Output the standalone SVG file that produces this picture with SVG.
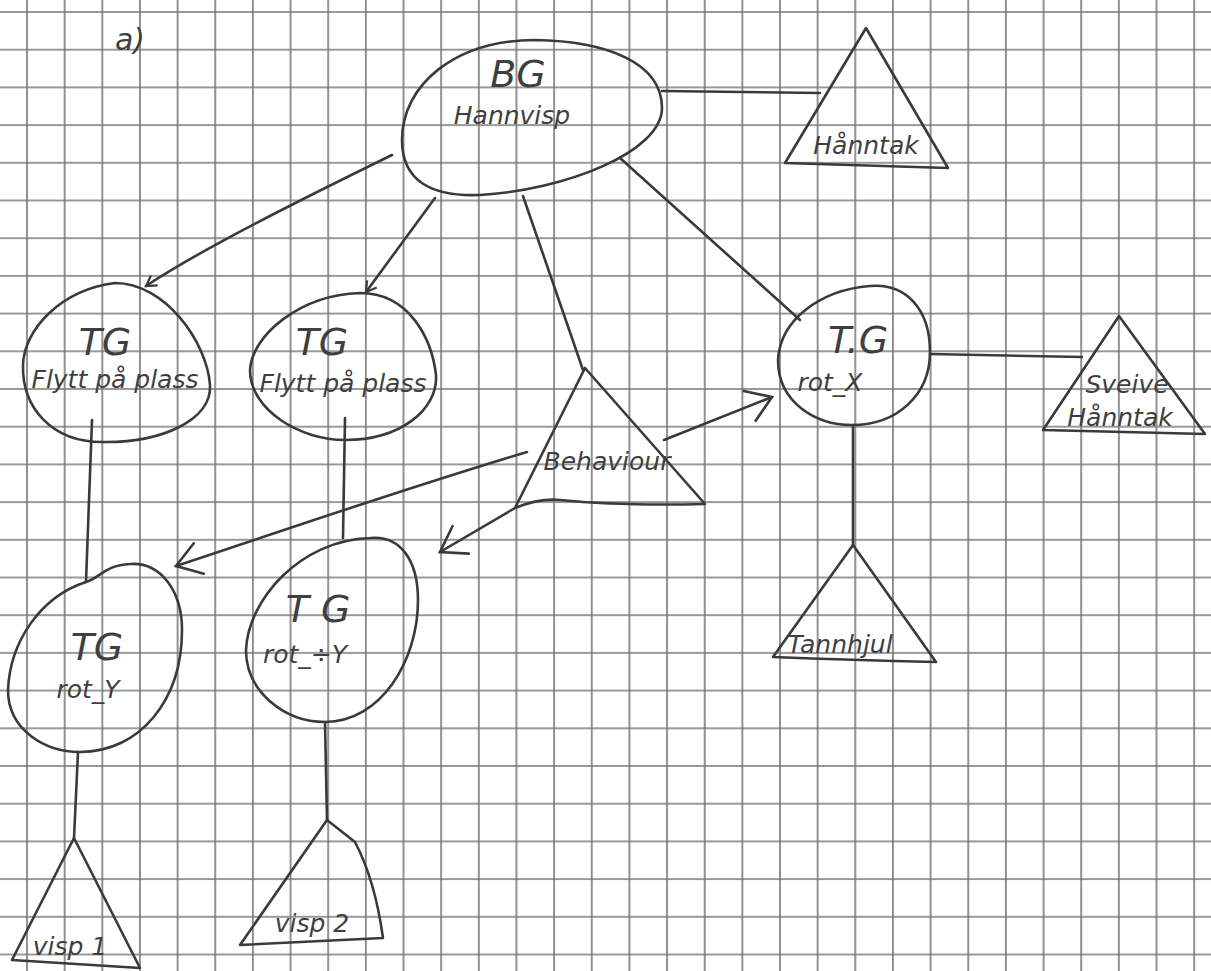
<svg xmlns="http://www.w3.org/2000/svg" width="1211" height="971" viewBox="0 0 1211 971">
<defs>
<pattern id="grid" patternUnits="userSpaceOnUse" x="8.2" y="-6.85" width="37.65" height="37.7">
<path d="M18.8 0 V37.7 M0 18.85 H37.65" stroke="#777777" stroke-width="1.6" fill="none"/>
</pattern>
<marker id="arrS" markerWidth="16" markerHeight="16" refX="12" refY="8" orient="auto" markerUnits="userSpaceOnUse">
<path d="M2 2 L12 8 L2 14" fill="none" stroke="#3a3a3a" stroke-width="2.2"/>
</marker>
<marker id="arrL" markerWidth="36" markerHeight="40" refX="30" refY="20" orient="auto" markerUnits="userSpaceOnUse">
<path d="M6 4 L30 20 L6 36" fill="none" stroke="#3a3a3a" stroke-width="2.6" stroke-linecap="round"/>
</marker>
</defs>
<style>
.s{fill:none;stroke:#3a3a3a;stroke-width:2.6;stroke-linejoin:round;stroke-linecap:round}
.t{font-family:"DejaVu Sans",sans-serif;font-style:oblique;fill:#3f3f3f;text-anchor:middle}
.big{font-size:38px}
.sm{font-size:25px}
</style>
<rect width="1211" height="971" fill="#ffffff"/>
<rect width="1211" height="971" fill="url(#grid)"/>
<text class="t" x="130" y="50" font-size="30">a)</text>

<g id="connectors">
<line class="s" x1="662" y1="91" x2="820" y2="93"/>
<path class="s" d="M392 155 C300 200 200 250 146 286" marker-end="url(#arrS)"/>
<path class="s" d="M435 198 L366 292" marker-end="url(#arrS)"/>
<path class="s" d="M523 196 L583 370"/>
<path class="s" d="M620 158 L800 320"/>
<line class="s" x1="930" y1="354" x2="1082" y2="357"/>
<line class="s" x1="853" y1="425" x2="853" y2="545"/>
<path class="s" d="M664 440 L772 397" marker-end="url(#arrL)"/>
<path class="s" d="M527 452 C400 490 300 525 176 566" marker-end="url(#arrL)"/>
<path class="s" d="M515 508 L440 552" marker-end="url(#arrL)"/>
<line class="s" x1="92" y1="420" x2="86" y2="582"/>
<line class="s" x1="345" y1="418" x2="343" y2="538"/>
<line class="s" x1="78" y1="752" x2="74" y2="838"/>
<line class="s" x1="325" y1="722" x2="327" y2="820"/>
</g>

<g id="bg">
<path class="s" d="M535 40 C455 40 402 85 402 140 C402 180 430 197 480 195 C565 190 662 152 662 108 C662 62 605 41 535 40 Z"/>
<text class="t big" x="518" y="87">BG</text>
<text class="t sm" x="512" y="124" font-size="28">Hannvisp</text>
</g>

<g id="handtak">
<path class="s" d="M866 28 L785 163 L948 168 Z"/>
<text class="t sm" x="866" y="154">Hånntak</text>
</g>

<g id="tg-flytt-1">
<path class="s" d="M115 283 C60 290 24 330 23 365 C22 408 52 442 102 442 C162 443 212 420 210 385 C207 342 165 283 115 283 Z"/>
<text class="t big" x="105" y="355">TG</text>
<text class="t sm" x="115" y="388">Flytt på plass</text>
</g>

<g id="tg-flytt-2">
<path class="s" d="M360 293 C300 295 252 335 250 370 C250 410 300 440 345 440 C400 440 438 410 436 375 C432 340 410 293 360 293 Z"/>
<text class="t big" x="322" y="355">TG</text>
<text class="t sm" x="343" y="392">Flytt på plass</text>
</g>

<g id="behaviour">
<path class="s" d="M585 368 L515 508 Q540 498 560 500 Q620 506 705 504 Z"/>
<text class="t sm" x="607" y="470">Behaviour</text>
</g>

<g id="tg-rotx">
<path class="s" d="M870 286 C820 290 780 320 778 360 C778 402 815 425 852 425 C897 425 930 395 930 352 C930 308 905 283 870 286 Z"/>
<text class="t big" x="858" y="353">T.G</text>
<text class="t sm" x="830" y="391" font-size="28">rot_X</text>
</g>

<g id="sveive">
<path class="s" d="M1119 316 L1043 430 L1205 434 Z"/>
<text class="t sm" x="1127" y="393">Sveive</text>
<text class="t sm" x="1120" y="426">Hånntak</text>
</g>

<g id="tannhjul">
<path class="s" d="M853 545 L773 657 Q850 660 936 662 Z"/>
<text class="t sm" x="840" y="653">Tannhjul</text>
</g>

<g id="tg-roty-1">
<path class="s" d="M130 564 C105 565 100 578 86 582 C40 597 10 642 8 690 C8 730 45 752 80 752 C140 752 182 700 182 630 C182 590 160 562 130 564 Z"/>
<text class="t big" x="97" y="660">TG</text>
<text class="t sm" x="88" y="698" font-size="28">rot_Y</text>
</g>

<g id="tg-roty-2">
<path class="s" d="M370 538 C300 540 248 600 246 650 C246 692 285 722 325 722 C380 722 418 662 418 600 C418 560 400 535 370 538 Z"/>
<text class="t big" x="318" y="622">T G</text>
<text class="t sm" x="305" y="663" font-size="28">rot_÷Y</text>
</g>

<g id="visp1">
<path class="s" d="M74 838 L12 960 L140 968 Z"/>
<text class="t sm" x="70" y="955">visp 1</text>
</g>

<g id="visp2">
<path class="s" d="M327 820 L355 842 Q375 880 383 938 L240 945 Z"/>
<text class="t sm" x="312" y="932">visp 2</text>
</g>
</svg>
